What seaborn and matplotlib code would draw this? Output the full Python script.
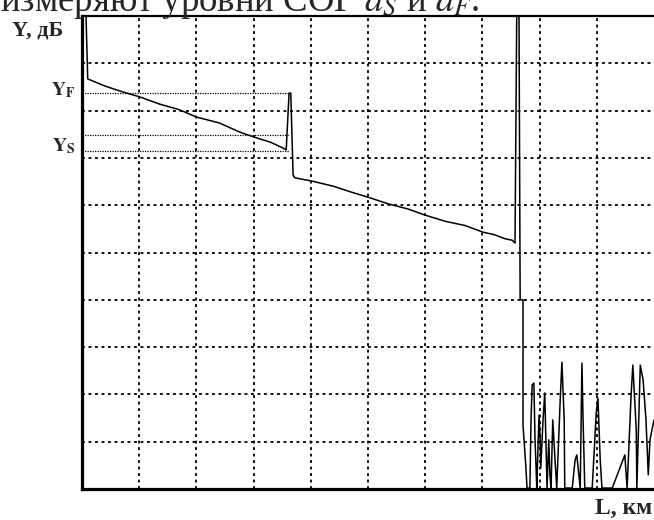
import numpy as np
import pandas as pd
import matplotlib
matplotlib.use("Agg")
import matplotlib.pyplot as plt
import seaborn as sns

# === Style ===
sns.set_style("white")
plt.rcParams["font.family"] = ["Liberation Serif", "DejaVu Serif"]
plt.rcParams["mathtext.fontset"] = "stix"

# === Data: OTDR trace (distance in km, level in dB, 10 divisions each) ===
trace_km = [0.07, 0.10, 0.40, 0.70, 1.01, 1.35, 1.70, 2.01, 2.40, 2.75, 3.01, 3.30, 3.51, 3.57,
            3.62, 3.65, 3.69, 3.72, 4.02, 4.40, 4.70, 5.00, 5.35, 5.70, 6.00, 6.35, 6.70,
            7.01, 7.20, 7.40, 7.52, 7.57, 7.60, 7.64, 7.66, 7.71, 7.71, 7.76, 7.78]
trace_db = [10.0, 8.67, 8.52, 8.40, 8.29, 8.14, 8.02, 7.86, 7.74, 7.55, 7.44, 7.33, 7.21, 7.17,
            8.37, 8.37, 6.64, 6.58, 6.51, 6.40, 6.28, 6.17, 6.03, 5.92, 5.79, 5.66, 5.57,
            5.43, 5.38, 5.29, 5.26, 5.20, 10.0, 10.0, 4.00, 4.00, 1.35, 0.47, 0.02]

noise_km = [7.83, 7.85, 7.87, 7.90, 7.92, 7.94, 7.95, 7.99, 8.01, 8.02, 8.06, 8.09, 8.13, 8.16,
            8.18, 8.20, 8.23, 8.27, 8.30, 8.36, 8.39, 8.43, 8.44, 8.57, 8.62, 8.65, 8.71, 8.74,
            8.76, 8.79, 8.92, 8.99, 9.02, 9.06, 9.09, 9.27, 9.49, 9.53, 9.60, 9.63, 9.69, 9.70,
            9.76, 9.81, 9.86, 9.90, 9.93, 10.0]
noise_db = [0.02, 1.46, 2.20, 2.24, 1.04, 0.40, 0.02, 1.56, 1.04, 0.44, 1.46, 2.03, 0.02, 1.04,
            0.30, 0.02, 1.46, 0.61, 0.02, 1.88, 2.68, 1.46, 0.02, 0.02, 0.61, 0.72, 0.02, 2.66,
            1.46, 0.02, 0.02, 1.61, 1.92, 0.61, 0.02, 0.02, 0.72, 0.02, 1.99, 2.62, 1.25, 0.02,
            2.62, 2.30, 1.46, 0.30, 1.04, 1.46]

# reference levels read at the splice
level_f = 8.37
level_s = [7.48, 7.15]
level_end_km = 3.62

df = pd.DataFrame({"L": trace_km + noise_km, "Y": trace_db + noise_db})

# === Figure ===
fig = plt.figure(figsize=(6.54, 5.2), dpi=100)
ax = fig.add_axes([0.1254, 0.0596, 0.8746, 0.9096])

ax.set_xticks(range(1, 10))
ax.set_yticks(range(1, 10))
ax.grid(True, color="black", linestyle=(0, (1.6, 2.0)), linewidth=1.3)
ax.set_axisbelow(True)

for lv in [level_f] + level_s:
    ax.hlines(lv, 0, level_end_km, colors="black", linestyles=(0, (1, 1)), linewidth=0.9)

sns.lineplot(data=df, x="L", y="Y", sort=False, estimator=None,
             color="black", linewidth=1.1, ax=ax)

ax.set_xlim(0, 10)
ax.set_ylim(0, 10)
ax.set_xlabel("")
ax.set_ylabel("")
ax.tick_params(length=0, labelbottom=False, labelleft=False)
ax.spines["right"].set_visible(False)
ax.spines["left"].set_linewidth(2.3)
ax.spines["bottom"].set_linewidth(2.3)
ax.spines["top"].set_linewidth(1.6)
for s in ax.spines.values():
    s.set_color("black")

# === Labels ===
# caption line above the figure is cut off in the reference scan
fig.text(0.0, 0.979, "измеряют уровни СОГ $a_S$ и $a_F$.", fontsize=26.5,
         ha="left", va="baseline")
fig.text(0.018, 0.942, "Y, дБ", fontsize=16, fontweight="bold", ha="left", va="center")
fig.text(0.115, 0.826, r"$\mathbf{Y_F}$", fontsize=14, ha="right", va="center")
fig.text(0.115, 0.719, r"$\mathbf{Y_S}$", fontsize=14, ha="right", va="center")
fig.text(0.997, 0.023, "L, км", fontsize=17, fontweight="bold", ha="right", va="center")

fig.savefig("out.png", dpi=100)
